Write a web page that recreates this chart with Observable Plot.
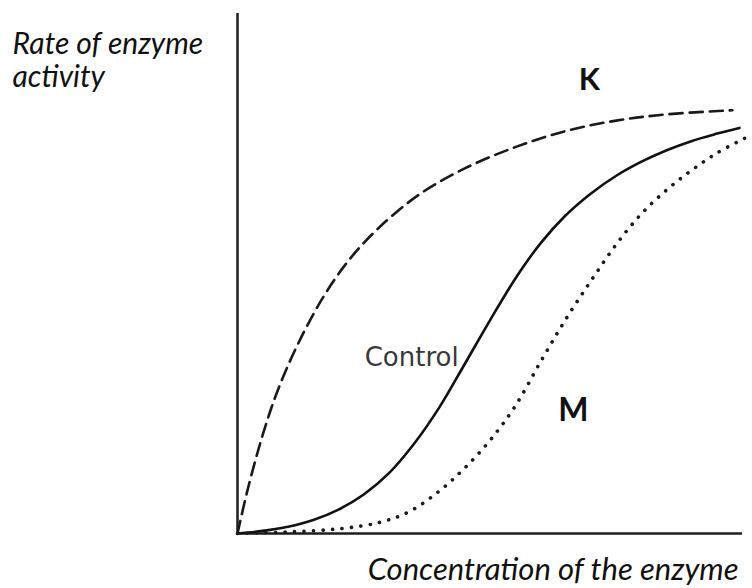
<!DOCTYPE html>
<html>
<head>
<meta charset="utf-8">
<script src="https://cdn.jsdelivr.net/npm/d3@7"></script>
<script src="https://cdn.jsdelivr.net/npm/@observablehq/plot@0.6"></script>
<style>
  html, body { margin: 0; padding: 0; background: #fff; }
  #chart svg { display: block; }
</style>
</head>
<body>
<div id="chart"></div>
<script>
// Curve readings (concentration 0–100, rate 0–100, arbitrary units)
const kX = [0, 2, 5, 8, 12, 17, 22, 28, 36, 45, 55, 65, 75, 85, 98];
const kY = [0, 8.4, 19.0, 27.6, 36.5, 45.5, 52.5, 58.8, 65.2, 70.2, 74.3, 77.4, 79.4, 80.6, 81.4];

const controlX = [0, 5, 10, 15, 20, 25, 30, 35, 40, 45, 50, 55, 60, 65, 70, 75, 80, 85, 90, 95, 99.4];
const controlY = [0, 0.5, 1.3, 2.6, 4.6, 7.5, 11.6, 17.3, 24.3, 32.6, 41.0, 49.0, 55.8, 61.2, 65.4, 68.8, 71.5, 73.7, 75.5, 76.9, 78.0];

const mX = [0, 10, 20, 28, 34, 40, 45, 50, 55, 60, 65, 70, 75, 80, 85, 90, 95, 100.4];
const mY = [0, 0.3, 0.9, 2.1, 4.2, 8.2, 12.6, 17.9, 24.5, 33.0, 41.2, 48.6, 55.6, 61.5, 66.1, 69.9, 73.2, 76.0];

const yTitleLines = ["Rate of enzyme", "activity"];
const xTitle = "Concentration of the enzyme";
const seriesNames = ["K", "Control", "M"];

const toRows = (xs, ys) => xs.map((x, i) => ({x, y: ys[i]}));
const kData = toRows(kX, kY);
const controlData = toRows(controlX, controlY);
const mData = toRows(mX, mY);

const italicFont = "Lato, 'Open Sans', sans-serif";

const chart = Plot.plot({
  width: 752,
  height: 588,
  marginLeft: 237,
  marginRight: 10,
  marginTop: 13,
  marginBottom: 55,
  x: {domain: [0, 100], axis: null},
  y: {domain: [0, 100], axis: null},
  marks: [
    Plot.ruleX([0], {stroke: "#1e1e1e", strokeWidth: 2.5}),
    Plot.ruleY([0], {stroke: "#1e1e1e", strokeWidth: 2.5}),
    Plot.line(kData, {x: "x", y: "y", curve: "catmull-rom", stroke: "#1a1a1a", strokeWidth: 2.6, strokeDasharray: "13 7"}),
    Plot.line(controlData, {x: "x", y: "y", curve: "catmull-rom", stroke: "#111", strokeWidth: 2.6}),
    Plot.line(mData, {x: "x", y: "y", curve: "catmull-rom", stroke: "#1a1a1a", strokeWidth: 3.6, strokeDasharray: "0.1 9.4", strokeLinecap: "round"}),
    // series labels
    Plot.text([seriesNames[0]], {x: () => 69.7, y: () => 85.2, text: d => d, fontFamily: "Lato, sans-serif", fontWeight: "bold", fontSize: 31, fill: "#111", lineAnchor: "bottom"}),
    Plot.text([seriesNames[2]], {x: () => 66.5, y: () => 21.7, text: d => d, fontFamily: "Lato, sans-serif", fontWeight: "bold", fontSize: 32, fill: "#111", lineAnchor: "bottom"}),
    Plot.text([seriesNames[1]], {x: () => 43.8, y: () => 32.3, text: d => d, textAnchor: "end", fontFamily: "'DejaVu Sans', sans-serif", fontSize: 26, fill: "#383838", lineAnchor: "bottom"}),
    // axis titles
    Plot.text([yTitleLines[0]], {frameAnchor: "top-left", dx: -225, dy: 40, text: d => d, textAnchor: "start", lineAnchor: "bottom", fontFamily: italicFont, fontStyle: "italic", fontSize: 30, fill: "#111"}),
    Plot.text([yTitleLines[1]], {frameAnchor: "top-left", dx: -225, dy: 73, text: d => d, textAnchor: "start", lineAnchor: "bottom", fontFamily: italicFont, fontStyle: "italic", fontSize: 30, fill: "#111"}),
    Plot.text([xTitle], {frameAnchor: "bottom-right", dx: -4, dy: 46, text: d => d, textAnchor: "end", lineAnchor: "bottom", fontFamily: italicFont, fontStyle: "italic", fontSize: 31, fill: "#111"})
  ]
});
document.getElementById("chart").appendChild(chart);
</script>
</body>
</html>
